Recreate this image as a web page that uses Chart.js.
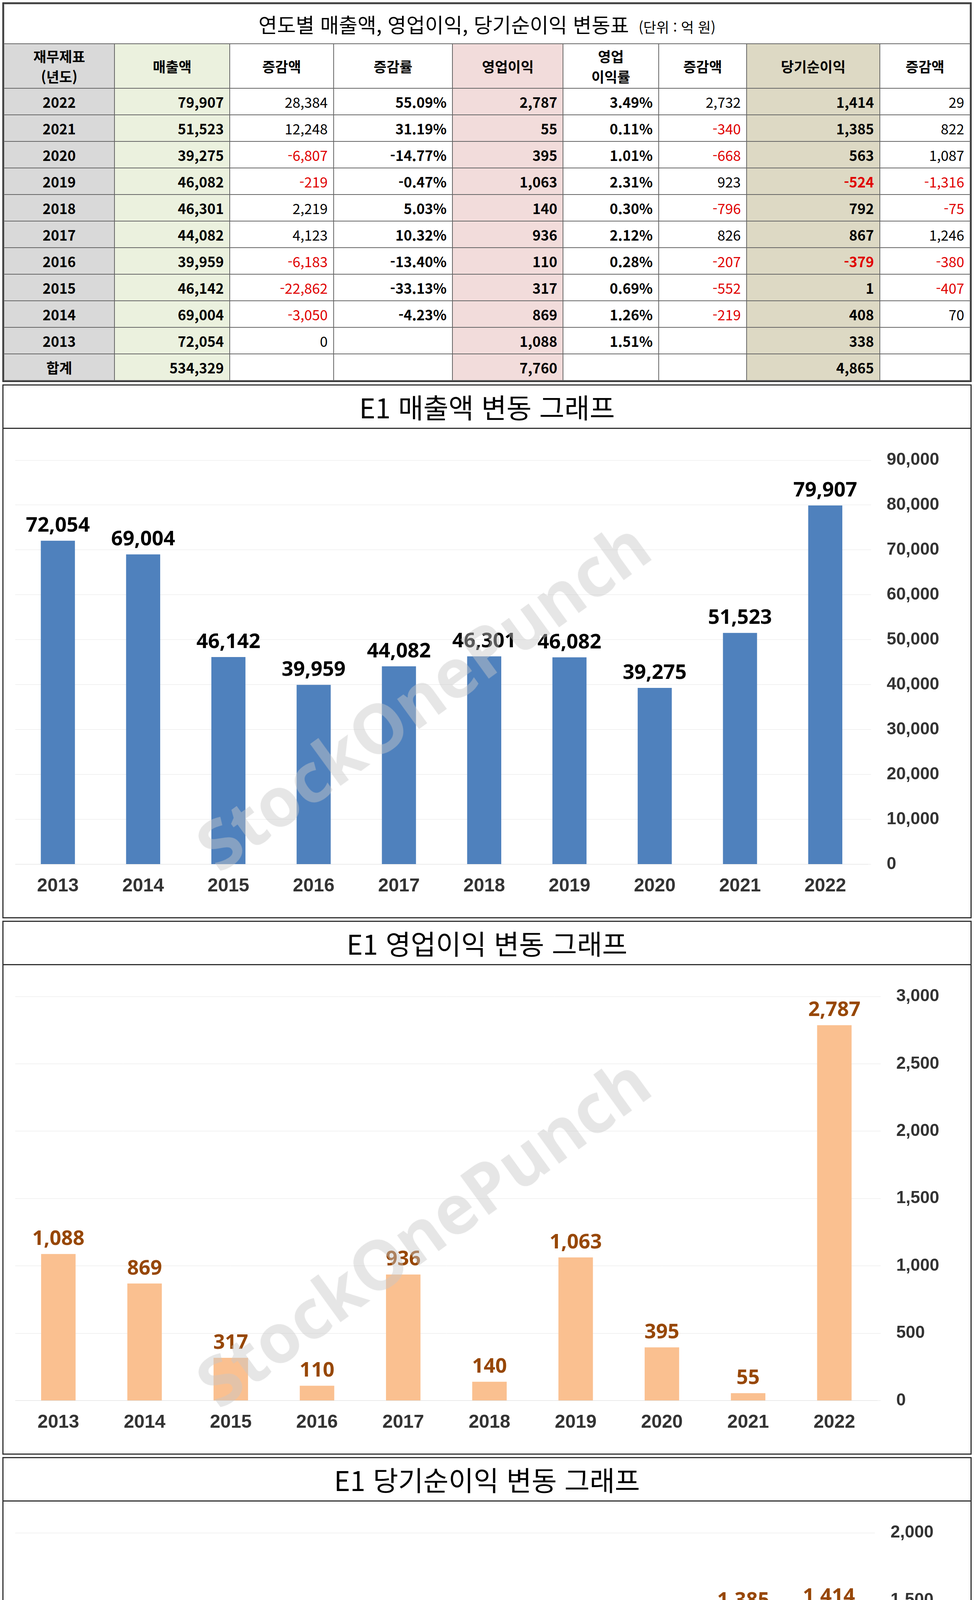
<!DOCTYPE html>
<html lang="ko">
<head>
<meta charset="UTF-8">
<title>E1 재무 변동</title>
<script src="https://cdn.jsdelivr.net/npm/chart.js"></script>
<style>
  body { margin:0; width:2493px; background:#fff; font-family:"Noto Sans CJK KR","Noto Sans",sans-serif; }
  .wrap { border:3px solid #333; margin:6px 6px 0 6px; }
  table { border-collapse:collapse; width:100%; font-size:36px; }
  td { border:2px solid #666; height:66px; padding:0 14px; text-align:right; font-weight:bold; }
  .tt td { text-align:center; font-size:52px; font-weight:normal; height:100px; }
  .hd td { text-align:center; height:112px; font-size:36px; }
  .c0 { background:#d9d9d9; text-align:center; }
  .cg { background:#ebf1de; } .cp { background:#f2dcdb; } .cb { background:#ddd9c4; }
  .neg { color:#e00000; font-weight:normal; } .nb { font-weight:normal; }
  .title { text-align:center; font-size:70px; height:108px; line-height:108px; border-bottom:3px solid #333; }
  .box { position:relative; height:1250px; }
  .wm { position:absolute; left:380px; top:560px; font-size:175px; font-weight:bold; color:rgba(200,200,200,0.45);
        transform:rotate(-36deg); font-family:"Open Sans",sans-serif; pointer-events:none; z-index:2; }
</style>
</head>
<body>
<div class="wrap"><table id="tbl"></table></div>
<div class="wrap"><div class="title">E1 매출액 변동 그래프</div><div class="box"><canvas id="c1"></canvas><div class="wm">StockOnePunch</div></div></div>
<div class="wrap"><div class="title">E1 영업이익 변동 그래프</div><div class="box"><canvas id="c2"></canvas><div class="wm">StockOnePunch</div></div></div>
<div class="wrap"><div class="title">E1 당기순이익 변동 그래프</div><div class="box"><canvas id="c3"></canvas><div class="wm">StockOnePunch</div></div></div>
<script>
const years = ['2013','2014','2015','2016','2017','2018','2019','2020','2021','2022'];
const sales = [72054, 69004, 46142, 39959, 44082, 46301, 46082, 39275, 51523, 79907];
const salesDiff = [0, -3050, -22862, -6183, 4123, 2219, -219, -6807, 12248, 28384];
const salesRate = ['', '-4.23%', '-33.13%', '-13.40%', '10.32%', '5.03%', '-0.47%', '-14.77%', '31.19%', '55.09%'];
const opIncome = [1088, 869, 317, 110, 936, 140, 1063, 395, 55, 2787];
const opRate = ['1.51%', '1.26%', '0.69%', '0.28%', '2.12%', '0.30%', '2.31%', '1.01%', '0.11%', '3.49%'];
const opDiff = [null, -219, -552, -207, 826, -796, 923, -668, -340, 2732];
const netIncome = [338, 408, 1, -379, 867, 792, -524, 563, 1385, 1414];
const netDiff = [null, 70, -407, -380, 1246, -75, -1316, 1087, 822, 29];

const fmt = v => v === null ? '' : v.toLocaleString('en-US');
const cls = v => (v !== null && v < 0) ? 'neg' : 'nb';

// 표
let h = '<tr class="tt"><td colspan="9">연도별 매출액, 영업이익, 당기순이익 변동표 <span style="font-size:36px">&nbsp;(단위 : 억 원)</span></td></tr>';
h += '<tr class="hd"><td class="c0">재무제표<br>(년도)</td><td class="cg">매출액</td><td>증감액</td><td>증감률</td>' +
     '<td class="cp">영업이익</td><td>영업<br>이익률</td><td>증감액</td><td class="cb">당기순이익</td><td>증감액</td></tr>';
for (let i = years.length - 1; i >= 0; i--) {
  const r = salesRate[i];
  h += `<tr><td class="c0">${years[i]}</td><td class="cg">${fmt(sales[i])}</td>` +
       `<td class="${cls(salesDiff[i])}">${fmt(salesDiff[i])}</td>` +
       `<td>${r}</td>` +
       `<td class="cp">${fmt(opIncome[i])}</td><td>${opRate[i]}</td>` +
       `<td class="${cls(opDiff[i])}">${fmt(opDiff[i])}</td>` +
       `<td class="cb" style="${netIncome[i] < 0 ? 'color:#e00000' : ''}">${fmt(netIncome[i])}</td>` +
       `<td class="${cls(netDiff[i])}">${fmt(netDiff[i])}</td></tr>`;
}
h += `<tr><td class="c0">합계</td><td class="cg">${fmt(sales.reduce((a,b)=>a+b))}</td><td></td><td></td>` +
     `<td class="cp">${fmt(opIncome.reduce((a,b)=>a+b))}</td><td></td><td></td>` +
     `<td class="cb">${fmt(netIncome.reduce((a,b)=>a+b))}</td><td></td></tr>`;
document.getElementById('tbl').innerHTML = h;

// 막대 위 값 표시
const valueLabels = {
  id: 'valueLabels',
  afterDatasetsDraw(chart, args, opts) {
    const c = chart.ctx;
    c.save();
    c.font = 'bold 52px "Noto Sans", sans-serif';
    c.textAlign = 'center';
    chart.getDatasetMeta(0).data.forEach((bar, i) => {
      const v = chart.data.datasets[0].data[i];
      if (v < 0) { c.fillStyle = '#ff0000'; c.textBaseline = 'top'; c.fillText(fmt(v), bar.x, bar.y + 14); }
      else { c.fillStyle = opts.color; c.textBaseline = 'bottom'; c.fillText(fmt(v), bar.x, bar.y - 12); }
    });
    c.restore();
  }
};

function makeChart(id, values, color, labelColor, min, max, step) {
  new Chart(document.getElementById(id), {
    type: 'bar',
    data: { labels: years, datasets: [{ data: values, backgroundColor: color, barPercentage: 0.5 }] },
    options: {
      responsive: true, maintainAspectRatio: false, animation: false,
      layout: { padding: { left: 30, right: 40, top: 80, bottom: 30 } },
      plugins: { legend: { display: false }, tooltip: { enabled: false }, valueLabels: { color: labelColor } },
      scales: {
        x: { grid: { display: false }, border: { color: '#d9d9d9' },
             ticks: { color: '#333', padding: 20, font: { size: 48, weight: 'bold' } } },
        y: { position: 'right', min: min, max: max,
             grid: { color: '#e6e6e6' }, border: { display: false },
             ticks: { stepSize: step, padding: 40, font: { size: 44, weight: 'bold' },
                      color: ctx => ctx.tick.value < 0 ? '#ff0000' : '#333',
                      callback: v => fmt(v) } }
      }
    },
    plugins: [valueLabels]
  });
}
makeChart('c1', sales, '#4f81bd', '#000', 0, 90000, 10000);
makeChart('c2', opIncome, '#fac090', '#974706', 0, 3000, 500);
makeChart('c3', netIncome, '#c0504d', '#974706', -1000, 2000, 500);
</script>
</body>
</html>
